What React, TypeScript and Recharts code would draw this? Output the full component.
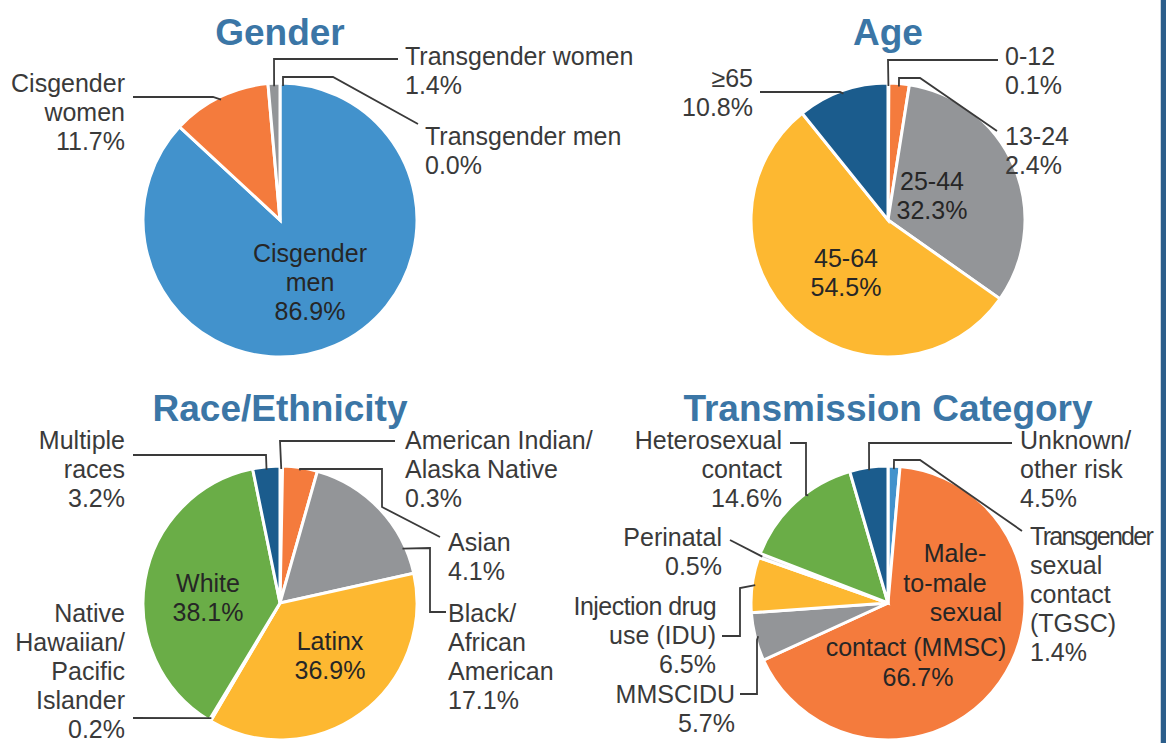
import React from "react";
import { PieChart, Pie, Cell } from "recharts";

// colours used in the four pies
const BLUE = "#4292cc";
const ORANGE = "#f47b3d";
const GRAY = "#939598";
const YELLOW = "#fdb831";
const NAVY = "#1b5c8d";
const GREEN = "#6aad47";
const PALE = "#d6d7d8";

// ---- data ----
const genderNames = ["Transgender men", "Cisgender men", "Cisgender women", "Transgender women"];
const genderValues = [0.0, 86.9, 11.7, 1.4];
const genderColors = [BLUE, BLUE, ORANGE, GRAY];

const ageNames = ["0-12", "13-24", "25-44", "45-64", "≥65"];
const ageValues = [0.1, 2.4, 32.3, 54.5, 10.8];
const ageColors = [ORANGE, ORANGE, GRAY, YELLOW, NAVY];

const raceNames = [
  "American Indian/Alaska Native",
  "Asian",
  "Black/African American",
  "Latinx",
  "Native Hawaiian/Pacific Islander",
  "White",
  "Multiple races",
];
const raceValues = [0.3, 4.1, 17.1, 36.9, 0.2, 38.1, 3.2];
const raceColors = [ORANGE, ORANGE, GRAY, YELLOW, PALE, GREEN, NAVY];

const transNames = [
  "Transgender sexual contact (TGSC)",
  "Male-to-male sexual contact (MMSC)",
  "MMSCIDU",
  "Injection drug use (IDU)",
  "Perinatal",
  "Heterosexual contact",
  "Unknown/other risk",
];
const transValues = [1.4, 66.7, 5.7, 6.5, 0.5, 14.6, 4.5];
const transColors = [BLUE, ORANGE, GRAY, YELLOW, PALE, GREEN, NAVY];

const toRows = (names: string[], values: number[]) =>
  names.map((name, i) => ({ name, value: values[i] }));

// ---- label layout (text blocks + leader line elbows) ----
type LabelSpec = {
  lines: string[];
  x: number | number[];
  y: number | number[];
  anchor: "start" | "end" | "middle";
  path?: [number, number][];
  shift?: number; // clockwise degrees to move the line's attachment point
  inside?: boolean;
  squeeze?: number[]; // letter spacing per line
};

const genderLabels: LabelSpec[] = [
  { lines: ["Transgender men", "0.0%"], x: 425, y: 145, anchor: "start", path: [[418, 124], [333, 77], [283, 77]], shift: 1.3 },
  { lines: ["Cisgender", "men", "86.9%"], x: 310, y: 262, anchor: "middle", inside: true },
  { lines: ["Cisgender", "women", "11.7%"], x: 125, y: 92, anchor: "end", path: [[133, 97], [213, 97]] },
  { lines: ["Transgender women", "1.4%"], x: 405, y: 65, anchor: "start", path: [[398, 59], [274, 59]] },
];

const ageLabels: LabelSpec[] = [
  { lines: ["0-12", "0.1%"], x: 1005, y: 65, anchor: "start", path: [[998, 60], [888, 60]] },
  { lines: ["13-24", "2.4%"], x: 1005, y: 145, anchor: "start", path: [[997, 131], [920, 78], [899, 78]] },
  { lines: ["25-44", "32.3%"], x: 932, y: 190, anchor: "middle", inside: true },
  { lines: ["45-64", "54.5%"], x: 846, y: 267, anchor: "middle", inside: true },
  { lines: ["≥65", "10.8%"], x: 753, y: 87, anchor: "end", path: [[760, 92], [840, 92]] },
];

const raceLabels: LabelSpec[] = [
  { lines: ["American Indian/", "Alaska Native", "0.3%"], x: 405, y: 449, anchor: "start", path: [[395, 441], [280, 441]] },
  { lines: ["Asian", "4.1%"], x: 448, y: 551, anchor: "start", path: [[440, 537], [382, 507], [382, 469], [300, 469]] },
  { lines: ["Black/", "African", "American", "17.1%"], x: 448, y: 622, anchor: "start", path: [[446, 612], [430, 612], [430, 548]], shift: 19.4 },
  { lines: ["Latinx", "36.9%"], x: 330, y: 650, anchor: "middle", inside: true },
  { lines: ["Native", "Hawaiian/", "Pacific", "Islander", "0.2%"], x: 125, y: 622, anchor: "end", path: [[133, 718]] },
  { lines: ["White", "38.1%"], x: 208, y: 592, anchor: "middle", inside: true },
  { lines: ["Multiple", "races", "3.2%"], x: 125, y: 449, anchor: "end", path: [[133, 455], [266, 455]] },
];

const transLabels: LabelSpec[] = [
  {
    lines: ["Transgender", "sexual", "contact", "(TGSC)", "1.4%"],
    x: 1030,
    y: 545,
    anchor: "start",
    path: [[1022, 531], [920, 460], [894, 460]],
    squeeze: [-1.7, 0, 0, 0, 0],
  },
  {
    lines: ["Male-", "to-male", "sexual", "contact (MMSC)", "66.7%"],
    x: [955, 945, 966, 916, 918],
    y: [562, 592, 621, 656, 686],
    anchor: "middle",
    inside: true,
  },
  { lines: ["MMSCIDU", "5.7%"], x: 735, y: 703, anchor: "end", path: [[740, 694], [757, 694], [757, 640]] },
  {
    lines: ["Injection drug", "use (IDU)", "6.5%"],
    x: 716,
    y: 615,
    anchor: "end",
    path: [[722, 636], [740, 636], [740, 588]],
    squeeze: [-0.55, 0, 0],
  },
  { lines: ["Perinatal", "0.5%"], x: 722, y: 546, anchor: "end", path: [[730, 540]] },
  { lines: ["Heterosexual", "contact", "14.6%"], x: 782, y: 449, anchor: "end", path: [[790, 443], [806, 443], [806, 495]], shift: 6 },
  { lines: ["Unknown/", "other risk", "4.5%"], x: 1020, y: 449, anchor: "start", path: [[1012, 443], [869, 443]] },
];

const FONT = "'Liberation Sans', Arial, Helvetica, sans-serif";
const LINE_H = 29;

const makeLabel = (specs: LabelSpec[]) => (props: any) => {
  const { cx, cy, midAngle, outerRadius, index } = props;
  const spec = specs[index];
  if (!spec) return null;
  const a = ((midAngle - (spec.shift ?? 0)) * Math.PI) / 180;
  const r = outerRadius - 3;
  const ax = cx + r * Math.cos(a);
  const ay = cy - r * Math.sin(a);
  const pts = spec.path ? [...spec.path, [ax, ay]] : null;
  return (
    <g key={`lbl-${index}`}>
      {pts && (
        <polyline
          points={pts.map((p) => p.join(",")).join(" ")}
          fill="none"
          stroke="#3a3a3a"
          strokeWidth={1.8}
        />
      )}
      <text
        textAnchor={spec.anchor}
        fontFamily={FONT}
        fontSize={25}
        fill={spec.inside ? "#262626" : "#3a3a3a"}
      >
        {spec.lines.map((line, i) => (
          <tspan
            key={i}
            x={Array.isArray(spec.x) ? spec.x[i] : spec.x}
            y={Array.isArray(spec.y) ? spec.y[i] : spec.y + i * LINE_H}
            letterSpacing={spec.squeeze ? spec.squeeze[i] : undefined}
          >
            {line}
          </tspan>
        ))}
      </text>
    </g>
  );
};

const titles = [
  { text: "Gender", x: 280, top: 14 },
  { text: "Age", x: 888, top: 14 },
  { text: "Race/Ethnicity", x: 280, top: 390 },
  { text: "Transmission Category", x: 888, top: 390 },
];

const pies = [
  { key: "gender", names: genderNames, values: genderValues, colors: genderColors, labels: genderLabels, cx: 280, cy: 220 },
  { key: "age", names: ageNames, values: ageValues, colors: ageColors, labels: ageLabels, cx: 888, cy: 220 },
  { key: "race", names: raceNames, values: raceValues, colors: raceColors, labels: raceLabels, cx: 280, cy: 603 },
  { key: "trans", names: transNames, values: transValues, colors: transColors, labels: transLabels, cx: 888, cy: 603 },
];

export default function App() {
  return (
    <div
      style={{
        position: "absolute",
        left: 0,
        top: 0,
        width: 1166,
        height: 743,
        background: "#fff",
        fontFamily: FONT,
        overflow: "hidden",
      }}
    >
      <PieChart width={1166} height={743} margin={{ top: 0, right: 0, bottom: 0, left: 0 }}>
        {pies.map((p) => (
          <Pie
            key={p.key}
            data={toRows(p.names, p.values)}
            dataKey="value"
            nameKey="name"
            cx={p.cx}
            cy={p.cy}
            outerRadius={137}
            startAngle={90}
            endAngle={-270}
            stroke="#fff"
            strokeWidth={3}
            label={makeLabel(p.labels)}
            labelLine={false}
            isAnimationActive={false}
          >
            {p.colors.map((c, i) => (
              <Cell key={`c-${i}`} fill={c} />
            ))}
          </Pie>
        ))}
      </PieChart>

      {titles.map((t) => (
        <div
          key={t.text}
          style={{
            position: "absolute",
            left: t.x - 300,
            width: 600,
            top: t.top,
            textAlign: "center",
            fontSize: 37,
            lineHeight: "37px",
            fontWeight: 700,
            color: "#3b76a6",
          }}
        >
          {t.text}
        </div>
      ))}

      {/* right border strip */}
      <div style={{ position: "absolute", left: 1160, top: 0, width: 1, height: 743, background: "#c9d5e0" }} />
      <div style={{ position: "absolute", left: 1161, top: 0, width: 5, height: 743, background: "#2c5e8b" }} />
    </div>
  );
}
